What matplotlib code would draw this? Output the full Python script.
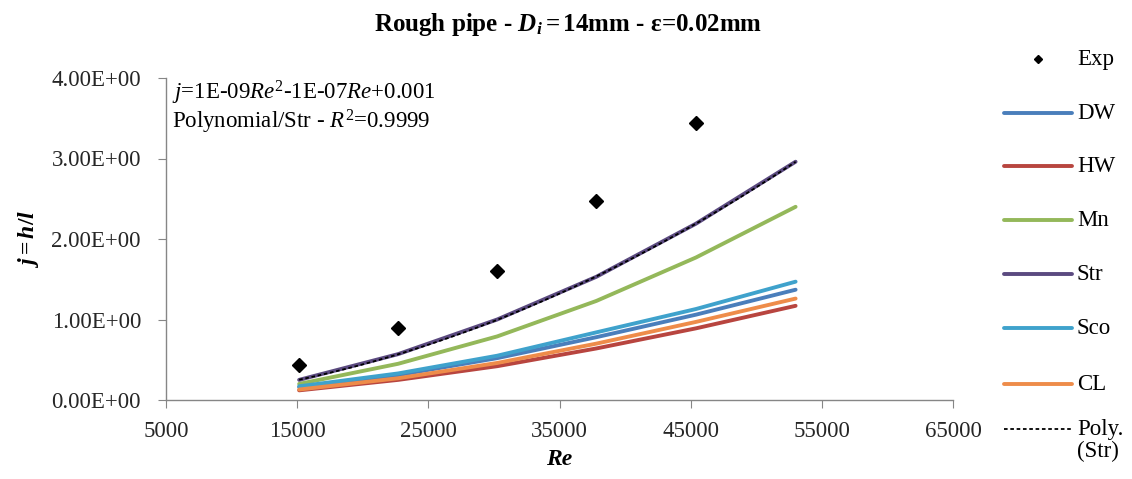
import numpy as np
import matplotlib
matplotlib.use("Agg")
import matplotlib.pyplot as plt
from matplotlib.ticker import FuncFormatter

plt.rcParams['font.family'] = ['Liberation Serif', 'DejaVu Serif']
plt.rcParams['mathtext.fontset'] = 'custom'
plt.rcParams['mathtext.rm'] = 'Liberation Serif'
plt.rcParams['mathtext.it'] = 'Liberation Serif:italic'
plt.rcParams['mathtext.bf'] = 'Liberation Serif:bold'
plt.rcParams['mathtext.bfit'] = 'Liberation Serif:italic:bold'

# data
re_exp = [15150, 22700, 30250, 37800, 45400]
j_exp = [0.435, 0.90, 1.605, 2.475, 3.445]

re_model = [15150, 22700, 30250, 37800, 45400, 53000]
j_dw = [0.16, 0.31, 0.52, 0.78, 1.06, 1.37]
j_hw = [0.12, 0.25, 0.42, 0.64, 0.89, 1.17]
j_mn = [0.20, 0.45, 0.79, 1.23, 1.77, 2.40]
j_str = [0.25, 0.57, 1.00, 1.53, 2.19, 2.96]
j_sco = [0.17, 0.33, 0.55, 0.84, 1.13, 1.47]
j_cl = [0.13, 0.27, 0.46, 0.70, 0.97, 1.26]

series = [("DW", j_dw, "#4a7ebb"),
          ("HW", j_hw, "#b8453f"),
          ("Mn", j_mn, "#94b85a"),
          ("Str", j_str, "#5b4a80"),
          ("Sco", j_sco, "#3fa2cc"),
          ("CL", j_cl, "#ee8c4a")]

x_ticks = [5000, 15000, 25000, 35000, 45000, 55000, 65000]
y_ticks = [0, 1, 2, 3, 4]

W, H = 1132, 479
fig = plt.figure(figsize=(W / 100, H / 100), dpi=100)
ax = fig.add_axes([166 / W, 1 - 400 / H, 787 / W, 322 / H])

ax.plot(re_exp, j_exp, 'D', color='black', markersize=7.5, zorder=5)
for name, vals, col in series:
    ax.plot(re_model, vals, color=col, lw=2.8, solid_capstyle='round')

# polynomial trendline of Str
coef = np.polyfit(re_model, j_str, 2)
re_fit = np.linspace(re_model[0], re_model[-1], 200)
ax.plot(re_fit, np.polyval(coef, re_fit), color='black', lw=1.3,
        linestyle=(0, (2, 1.5)), zorder=4)

ax.set_xlim(5000, 65000)
ax.set_ylim(0, 4)
ax.set_xticks(x_ticks)
ax.set_yticks(y_ticks)
ax.yaxis.set_major_formatter(FuncFormatter(lambda v, p: f"{v:.2E}"))
for s in ['top', 'right']:
    ax.spines[s].set_visible(False)
for s in ['left', 'bottom']:
    ax.spines[s].set_color('#868686')
    ax.spines[s].set_linewidth(1.0)
ax.tick_params(axis='both', direction='out', length=6, color='#868686',
               labelsize=16.5, labelcolor='#262626')
ax.tick_params(axis='y', pad=12)
ax.tick_params(axis='x', pad=9)

ax.set_xlabel("Re", fontsize=17, fontweight='bold', fontstyle='italic')
ax.xaxis.label.set_va('center')
ax.xaxis.set_label_coords(0.5, -0.185)
ax.set_ylabel(r"$\mathbfit{j}$$\mathbf{=}$$\mathbfit{h}$$\mathbf{/}$$\mathbfit{l}$",
              fontsize=17)
ax.yaxis.label.set_va('center')
ax.yaxis.set_label_coords(-0.175, 0.5)

ax.text(0.008, 0.955, r"$\mathit{j}$=1E-09$\mathit{Re}^{2}$-1E-07$\mathit{Re}$+0.001",
        transform=ax.transAxes, fontsize=16.5, va='center', ha='left')
ax.text(0.008, 0.865, r"Polynomial/Str - $\mathit{R}^{2}$=0.9999",
        transform=ax.transAxes, fontsize=16.5, va='center', ha='left')

fig.text(568 / W, 1 - 24 / H,
         r"Rough pipe - $\mathbfit{D}_{\mathbfit{i}}$$\mathbf{=14mm}$ - ε=0.02mm",
         fontsize=18, fontweight='bold', ha='center', va='center')

# legend drawn in pixel coordinates
lax = fig.add_axes([0, 0, 1, 1])
lax.set_xlim(0, W)
lax.set_ylim(H, 0)
lax.axis('off')
lax.plot([1038], [59], 'D', color='black', markersize=4)
lax.text(1077, 59, "Exp", fontsize=16.5, va='center', ha='left')
leg_y = [113, 166, 220, 274, 328, 384]
for (name, vals, col), yy in zip(series, leg_y):
    lax.plot([1004, 1072], [yy, yy], color=col, lw=2.8, solid_capstyle='round')
    lax.text(1077, yy, name, fontsize=16.5, va='center', ha='left')
lax.plot([1004, 1072], [429, 429], color='black', lw=1.3, linestyle=(0, (2, 1.5)))
lax.text(1077, 429, "Poly.", fontsize=16.5, va='center', ha='left')
lax.text(1077, 451, "(Str)", fontsize=16.5, va='center', ha='left')

fig.savefig("out.png", dpi=100)
